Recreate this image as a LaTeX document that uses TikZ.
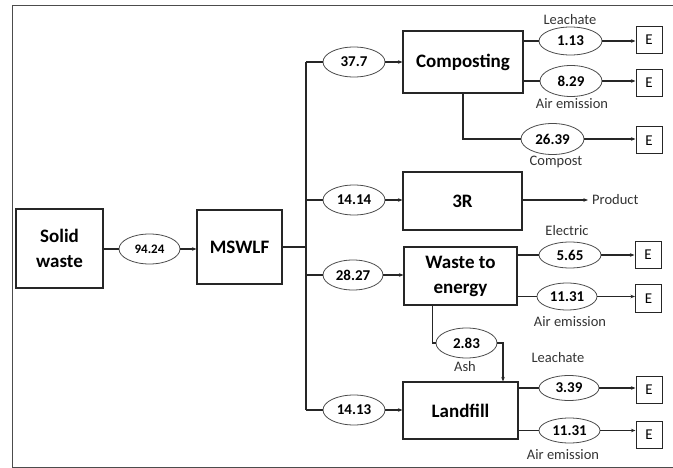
\documentclass[tikz,border=0pt]{standalone}
\usepackage{fontspec}
\setmainfont{Carlito}
\usetikzlibrary{arrows.meta,shapes.geometric}
\begin{document}
\begin{tikzpicture}[x=1pt,y=-1pt,
 box/.style={draw=black!85,line width=1.1pt,font=\fontsize{19}{25}\selectfont\bfseries,align=center,inner sep=0pt},
 ell/.style={draw=black!70,ellipse,line width=0.8pt,minimum width=62pt,minimum height=29pt,inner sep=0pt,font=\fontsize{15}{17}\selectfont\bfseries},
 ebox/.style={draw=black!85,line width=1pt,minimum width=26pt,minimum height=27pt,inner sep=0pt,font=\fontsize{15}{17}\selectfont},
 lbl/.style={font=\fontsize{14.5}{16}\selectfont,inner sep=0pt,text=black!80},
 ln/.style={draw=black!85,line width=1.1pt},
 arr/.style={ln,-{Stealth[length=4.5pt,width=3.5pt]}},
]
\useasboundingbox (0,0) rectangle (673,468);
\draw[line width=1pt,black!70] (12,6) rectangle (676,467);

% main boxes
\node[box,minimum width=87pt,minimum height=79pt] (solid) at (59.5,248.5) {Solid\\waste};
\node[box,minimum width=85pt,minimum height=74pt] (mswlf) at (239.5,247) {MSWLF};
\node[box,minimum width=120pt,minimum height=62pt] (comp) at (463,62) {Composting};
\node[box,minimum width=119pt,minimum height=58pt] (r3) at (462.5,201) {3R};
\node[box,minimum width=113pt,minimum height=58pt] (wte) at (460.5,276) {Waste to\\energy};
\node[box,minimum width=115pt,minimum height=57pt] (lf) at (460.5,410.5) {Landfill};

% ellipses
\node[ell,minimum width=61pt,minimum height=30pt,font=\fontsize{13}{15}\selectfont\bfseries] (e94) at (149.5,249) {94.24};
\node[ell,minimum height=30pt] (e377) at (354,62) {37.7};
\node[ell,minimum height=30pt] (e1414) at (354,200) {14.14};
\node[ell,minimum width=60pt,minimum height=30pt] (e2827) at (353,275) {28.27};
\node[ell,minimum height=30pt] (e1413) at (354,410) {14.13};
\node[ell,minimum width=63pt,minimum height=28pt] (e113) at (570.5,41) {1.13};
\node[ell,minimum height=31pt] (e829) at (571,81) {8.29};
\node[ell,minimum width=63pt,minimum height=31pt] (e2639) at (552.5,139) {26.39};
\node[ell,minimum height=26pt] (e565) at (570,255) {5.65};
\node[ell,minimum width=60pt,minimum height=27pt] (e1131a) at (567,296.5) {11.31};
\node[ell,minimum width=61pt,minimum height=30pt] (e283) at (466.5,343) {2.83};
\node[ell,minimum width=60pt,minimum height=25pt] (e339) at (569,388) {3.39};
\node[ell,minimum width=61pt,minimum height=25pt] (e1131b) at (569.5,430.5) {11.31};

% E boxes
\node[ebox] (E1) at (649,40) {E};
\node[ebox] (E2) at (649,83) {E};
\node[ebox] (E3) at (649,140.5) {E};
\node[ebox] (E4) at (648,255) {E};
\node[ebox] (E5) at (648.5,298.5) {E};
\node[ebox] (E6) at (649,389.5) {E};
\node[ebox] (E7) at (649,435) {E};

% labels
\node[lbl] (l1) at (570,20) {Leachate};
\node[lbl] (l2) at (572,104) {Air emission};
\node[lbl] (l3) at (556,162) {Compost};
\node[lbl] (l4) at (567,231) {Electric};
\node[lbl] (l5) at (570,322) {Air emission};
\node[lbl] (l6) at (465,367) {Ash};
\node[lbl] (l7) at (558,358) {Leachate};
\node[lbl] (l8) at (563,455) {Air emission};
\coordinate (prodend) at (588,200);
\node[lbl,anchor=west] (prod) at (592,200) {Product};

% connectors
\draw[ln] (e94.west -| solid.east) -- (e94.west);
\draw[arr] (e94.east) -- (e94.east -| mswlf.west);
\coordinate (t1) at (306,62);
\coordinate (t4) at (306,410);
\draw[ln] (t1) -- (t4);
\draw[ln] (mswlf.east) -- (mswlf.east -| t1);
\draw[ln] (t1) -- (e377.west);
\draw[ln] (e1414.west -| t1) -- (e1414.west);
\draw[ln] (e2827.west -| t1) -- (e2827.west);
\draw[ln] (t4) -- (e1413.west);
\draw[arr] (e377.east) -- (e377.east -| comp.west);
\draw[arr] (e1414.east) -- (e1414.east -| r3.west);
\draw[arr] (e2827.east) -- (e2827.east -| wte.west);
\draw[arr] (e1413.east) -- (e1413.east -| lf.west);

% composting outputs
\draw[ln] (comp.east |- e113) -- (e113.west);
\draw[arr] (e113.east) -- (e113.east -| E1.west);
\draw[ln] (comp.east |- e829) -- (e829.west);
\draw[arr] (e829.east) -- (e829.east -| E2.west);
\draw[ln] (comp.south) |- (e2639.west);
\draw[arr] (e2639.east) -- (e2639.east -| E3.west);

% 3R
\draw[arr] (r3.east |- prodend) -- (prodend);

% waste to energy outputs
\draw[ln] (wte.east |- e565) -- (e565.west);
\draw[arr] (e565.east) -- (e565.east -| E4.west);
\draw[ln] (wte.east |- e1131a) -- (e1131a.west);
\draw[arr] (e1131a.east) -- (e1131a.east -| E5.west);
\draw[ln] ([xshift=-3pt]e283.west |- wte.south) |- (e283.west);
\draw[arr] (e283.east) -| ([xshift=42.5pt]lf.north);

% landfill outputs
\draw[ln] (lf.east |- e339) -- (e339.west);
\draw[arr] (e339.east) -- (e339.east -| E6.west);
\draw[ln] (lf.east |- e1131b) -- (e1131b.west);
\draw[arr] (e1131b.east) -- (e1131b.east -| E7.west);
\end{tikzpicture}
\end{document}
